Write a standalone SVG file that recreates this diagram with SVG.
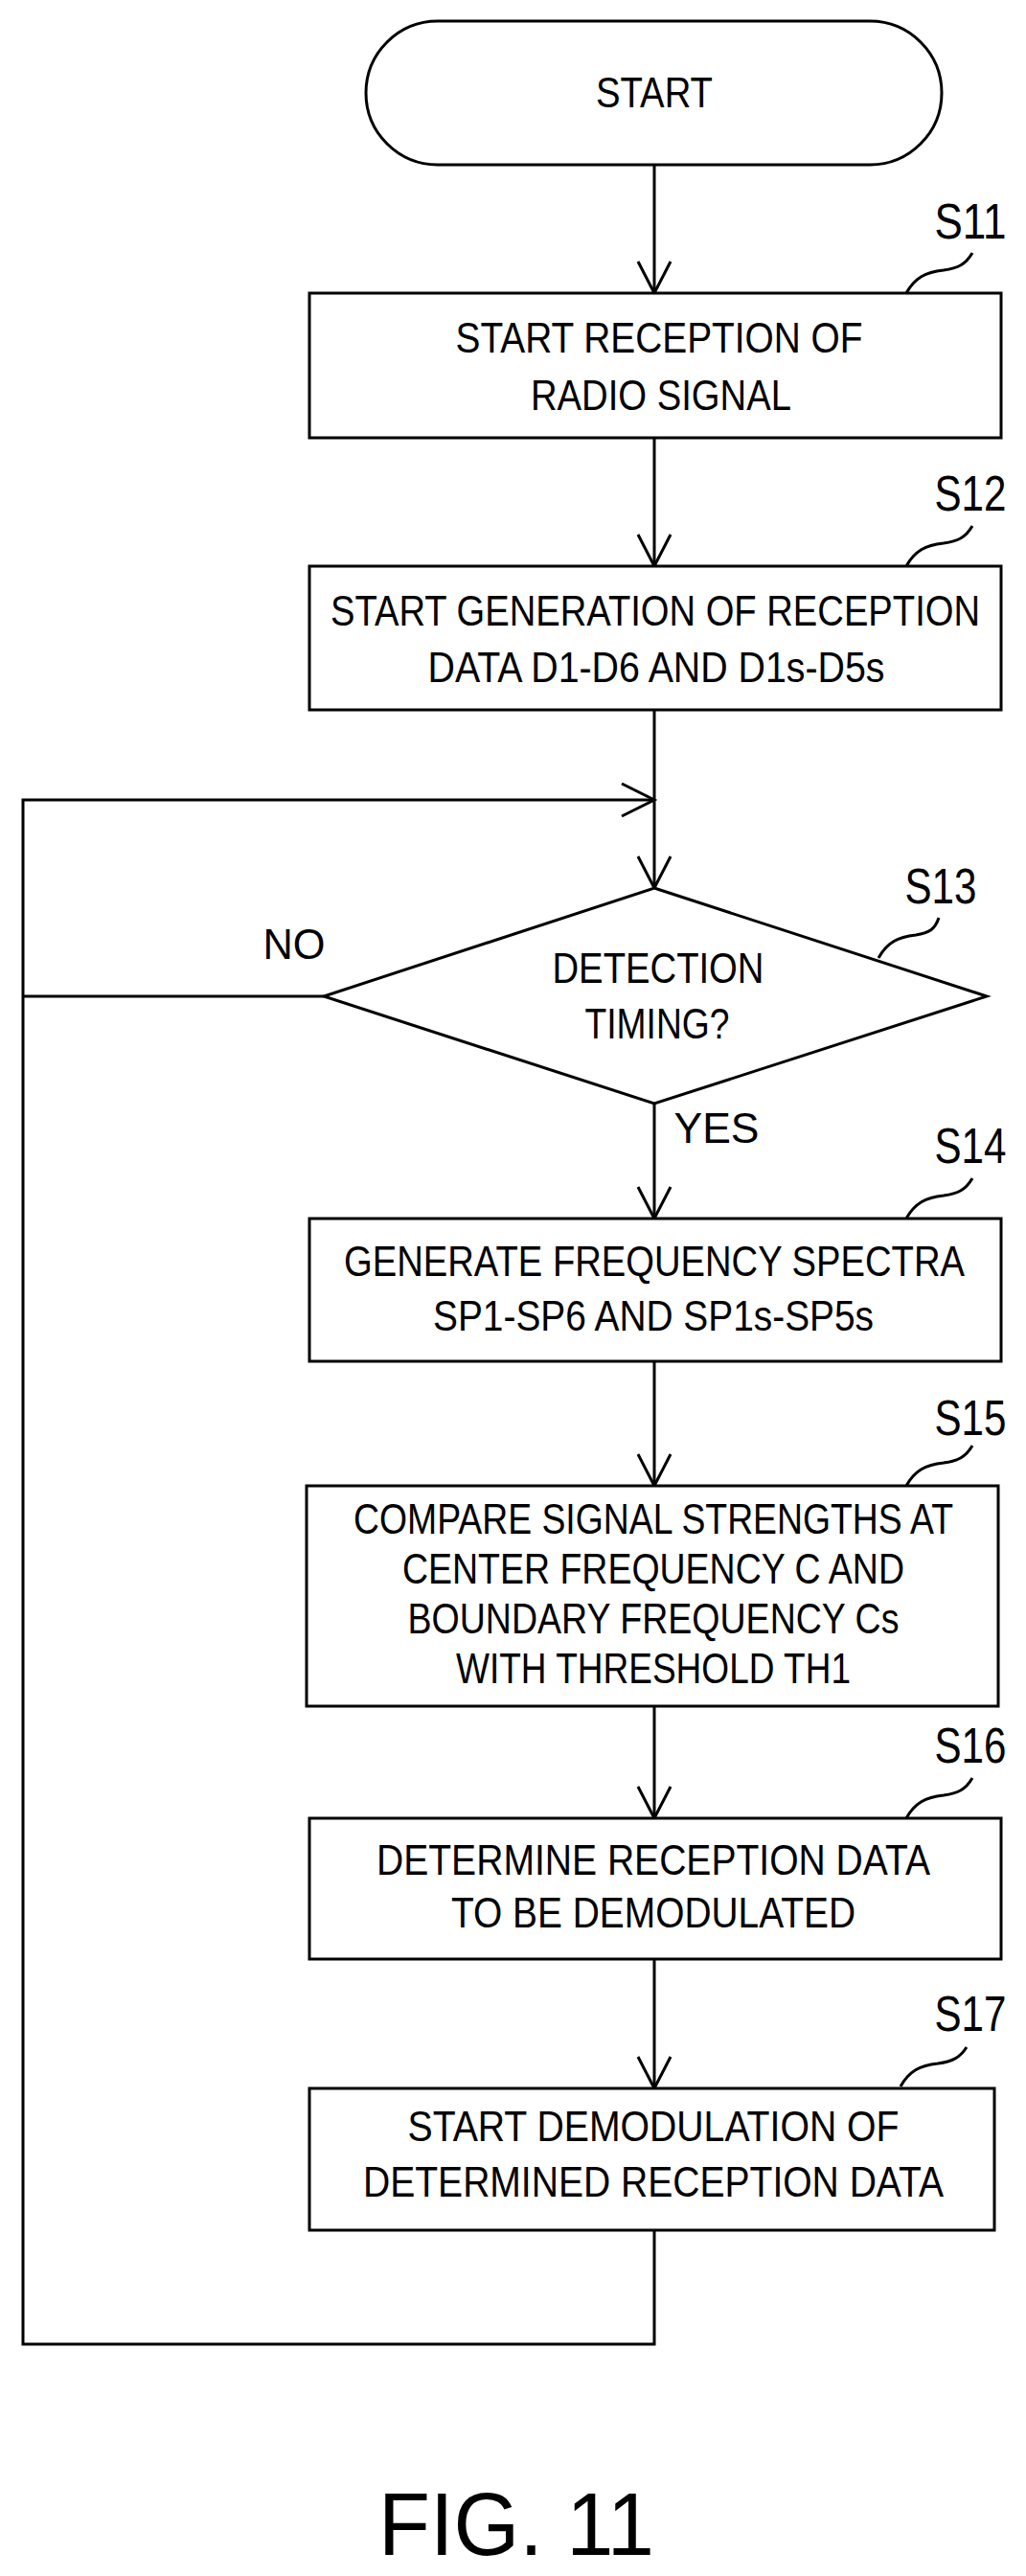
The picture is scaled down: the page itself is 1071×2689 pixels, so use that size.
<svg xmlns="http://www.w3.org/2000/svg" width="1071" height="2689" viewBox="0 0 1071 2689">
<style>
.b{fill:#fff;stroke:#000;stroke-width:3}
.t{font-family:"Liberation Sans",Arial,sans-serif;font-size:44px;text-anchor:middle;fill:#000}
.l{font-family:"Liberation Sans",Arial,sans-serif;font-size:51px;text-anchor:middle;fill:#000}
.c{fill:none;stroke:#000;stroke-width:3}
</style>
<rect width="1071" height="2689" fill="#fff"/>
<g id="connectors">
<path class="c" d="M683 172V306M683 457V591M683 741V927M683 1152V1272M683 1421V1551M683 1781V1898M683 2045V2180M683 2328V2447H24V835H683M338 1040H24"/>
<path class="c" d="M666 273L683 306L700 273M666 558L683 591L700 558M666 894L683 927L700 894M666 1239L683 1272L700 1239M666 1518L683 1551L700 1518M666 1865L683 1898L700 1865M666 2147L683 2180L700 2147M649 818L683 835L649 852"/>
<text class="t" x="748" y="1193" textLength="89" lengthAdjust="spacingAndGlyphs">YES</text>
<text class="t" x="307" y="1001" textLength="65" lengthAdjust="spacingAndGlyphs">NO</text>
</g>
<g id="start"><rect class="b" x="382" y="22" width="601" height="150" rx="75"/><text class="t" x="683" y="112" textLength="122" lengthAdjust="spacingAndGlyphs">START</text></g>
<g id="s11"><rect class="b" x="323" y="306" width="722" height="151"/><text class="t" x="688" y="368" textLength="425" lengthAdjust="spacingAndGlyphs">START RECEPTION OF</text><text class="t" x="690" y="428" textLength="272" lengthAdjust="spacingAndGlyphs">RADIO SIGNAL</text>
<path class="c" d="M946 306C955 290 966 284 985 282C1000 280 1008 276 1015 264"/><text class="l" x="1013" y="249" textLength="75" lengthAdjust="spacingAndGlyphs">S11</text></g>
<g id="s12"><rect class="b" x="323" y="591" width="722" height="150"/><text class="t" x="684" y="653" textLength="678" lengthAdjust="spacingAndGlyphs">START GENERATION OF RECEPTION</text><text class="t" x="685" y="712" textLength="477" lengthAdjust="spacingAndGlyphs">DATA D1-D6 AND D1s-D5s</text>
<path class="c" d="M946 591C955 575 966 569 985 567C1000 565 1008 561 1015 549"/><text class="l" x="1013" y="533" textLength="75" lengthAdjust="spacingAndGlyphs">S12</text></g>
<g id="s13"><polygon class="b" points="683,927 1030,1040 683,1152 338,1040"/><text class="t" x="687" y="1026" textLength="221" lengthAdjust="spacingAndGlyphs">DETECTION</text><text class="t" x="686" y="1084" textLength="151" lengthAdjust="spacingAndGlyphs">TIMING?</text>
<path class="c" d="M917 1000C926 984 937 978 956 976C970 974 976 970 980 958"/><text class="l" x="982" y="943" textLength="75" lengthAdjust="spacingAndGlyphs">S13</text></g>
<g id="s14"><rect class="b" x="323" y="1272" width="722" height="149"/><text class="t" x="683" y="1332" textLength="648" lengthAdjust="spacingAndGlyphs">GENERATE FREQUENCY SPECTRA</text><text class="t" x="682" y="1389" textLength="460" lengthAdjust="spacingAndGlyphs">SP1-SP6 AND SP1s-SP5s</text>
<path class="c" d="M946 1272C955 1256 966 1250 985 1248C1000 1246 1008 1242 1015 1230"/><text class="l" x="1013" y="1214" textLength="75" lengthAdjust="spacingAndGlyphs">S14</text></g>
<g id="s15"><rect class="b" x="320" y="1551" width="722" height="230"/><text class="t" x="682" y="1601" textLength="626" lengthAdjust="spacingAndGlyphs">COMPARE SIGNAL STRENGTHS AT</text><text class="t" x="682" y="1653" textLength="524" lengthAdjust="spacingAndGlyphs">CENTER FREQUENCY C AND</text><text class="t" x="682" y="1705" textLength="513" lengthAdjust="spacingAndGlyphs">BOUNDARY FREQUENCY Cs</text><text class="t" x="682" y="1757" textLength="412" lengthAdjust="spacingAndGlyphs">WITH THRESHOLD TH1</text>
<path class="c" d="M946 1551C955 1535 966 1529 985 1527C1000 1525 1008 1521 1015 1509"/><text class="l" x="1013" y="1498" textLength="75" lengthAdjust="spacingAndGlyphs">S15</text></g>
<g id="s16"><rect class="b" x="323" y="1898" width="722" height="147"/><text class="t" x="682" y="1957" textLength="578" lengthAdjust="spacingAndGlyphs">DETERMINE RECEPTION DATA</text><text class="t" x="682" y="2012" textLength="422" lengthAdjust="spacingAndGlyphs">TO BE DEMODULATED</text>
<path class="c" d="M946 1898C955 1882 966 1876 985 1874C1000 1872 1008 1868 1015 1856"/><text class="l" x="1013" y="1840" textLength="75" lengthAdjust="spacingAndGlyphs">S16</text></g>
<g id="s17"><rect class="b" x="323" y="2180" width="715" height="148"/><text class="t" x="682" y="2235" textLength="513" lengthAdjust="spacingAndGlyphs">START DEMODULATION OF</text><text class="t" x="682" y="2293" textLength="606" lengthAdjust="spacingAndGlyphs">DETERMINED RECEPTION DATA</text>
<path class="c" d="M940 2178C949 2162 960 2156 979 2154C994 2152 1002 2148 1009 2137"/><text class="l" x="1013" y="2120" textLength="75" lengthAdjust="spacingAndGlyphs">S17</text></g>
<text class="t" x="539" y="2667" style="font-size:93px" textLength="288" lengthAdjust="spacingAndGlyphs">FIG. 11</text>
</svg>
